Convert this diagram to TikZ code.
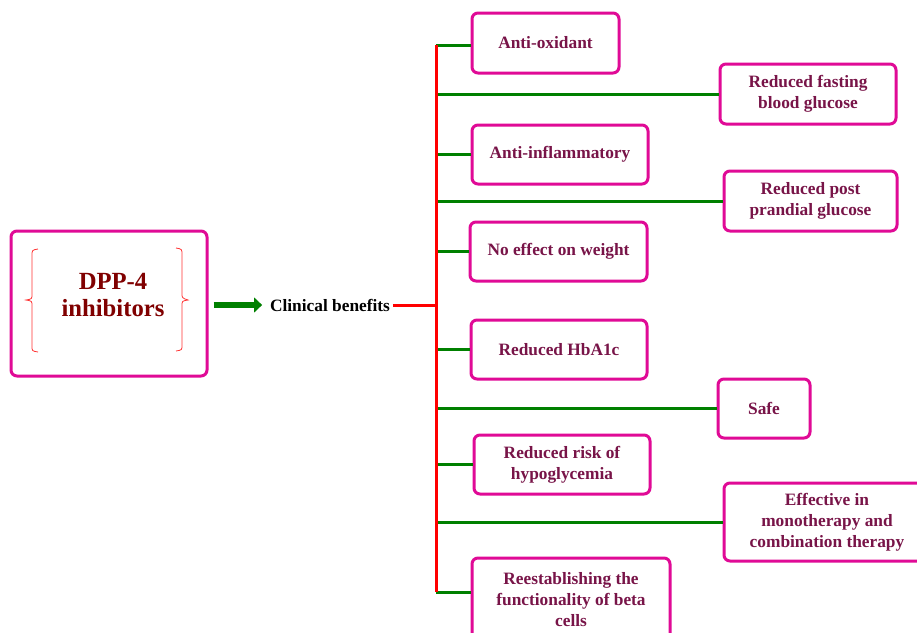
\documentclass[tikz,border=0pt]{standalone}
\usepackage{fontspec}
\setmainfont{Liberation Serif}
\usetikzlibrary{arrows.meta}
\definecolor{boxpink}{RGB}{224,10,150}
\definecolor{txtpurple}{RGB}{120,20,72}
\definecolor{dppred}{RGB}{128,0,0}
\definecolor{brgreen}{RGB}{0,128,0}
\definecolor{trunkred}{RGB}{255,0,0}
\tikzset{
  box/.style={draw=boxpink, line width=2.25pt, rounded corners=4.5pt, text=txtpurple,
    font=\fontsize{13}{15.75}\selectfont\bfseries, align=center, inner sep=0pt},
  branch/.style={draw=brgreen, line width=2.25pt},
  trunk/.style={draw=trunkred, line width=2.25pt},
  bracepath/.style={draw=trunkred!80, line width=0.6pt},
}
\begin{document}
\begin{tikzpicture}[x=0.75pt,y=-0.75pt]
\clip (0,0) rectangle (917,632);
\fill[white] (0,0) rectangle (917,632);
% left box
\node[box, minimum width=147pt, minimum height=108.75pt] (dpp) at (109,303.5) {};
\node[text=dppred, font=\fontsize{18.5}{20.25}\selectfont\bfseries, align=center, inner sep=0pt] (dpptxt) at (113,295) {DPP-4\\inhibitors};
\draw[bracepath] (38,249) .. controls (32,250) .. (32,256) -- (32,294) .. controls (32,299) .. (26,300) .. controls (32,301) .. (32,306) -- (32,346) .. controls (32,351) .. (38,352);
\draw[bracepath] (176,248) .. controls (182,249) .. (182,255) -- (182,293) .. controls (182,298) .. (188,300) .. controls (182,301) .. (182,306) -- (182,345) .. controls (182,350) .. (176,351);
% clinical benefits
\node[font=\fontsize{13}{15.75}\selectfont\bfseries, text=black, inner sep=2pt] (cb) at (330,305) {Clinical benefits};
\draw[draw=brgreen, line width=4.5pt, -{Triangle[length=6pt,width=11pt]}, shorten <=3.75pt, shorten >=3.75pt] (dpp.east |- cb.west) -- (cb.west);
% trunk
\coordinate (tt) at (436,45);
\coordinate (tm) at (436,305);
\coordinate (tb) at (436,592);
% boxes
\node[box, minimum width=110.25pt, minimum height=45pt] (b1) at (545.5,43) {Anti-oxidant};
\node[box, minimum width=132pt, minimum height=45pt] (b2) at (808,94) {Reduced fasting\\blood glucose};
\node[box, minimum width=132pt, minimum height=44.25pt] (b3) at (560,154.5) {Anti-inflammatory};
\node[box, minimum width=129.75pt, minimum height=45pt] (b4) at (810.5,201) {Reduced post\\prandial glucose};
\node[box, minimum width=132.75pt, minimum height=44.25pt] (b5) at (558.5,251.5) {No effect on weight};
\node[box, minimum width=132pt, minimum height=44.25pt] (b6) at (559,349.5) {Reduced HbA1c};
\node[box, minimum width=69pt, minimum height=44.25pt] (b7) at (764,408.5) {Safe};
\node[box, minimum width=132pt, minimum height=44.25pt] (b8) at (562,464.5) {Reduced risk of\\hypoglycemia};
\node[box, minimum width=154.5pt, minimum height=58.5pt] (b9) at (827,522) {Effective in\\monotherapy and\\combination therapy};
\node[box, minimum width=148.5pt, minimum height=63pt] (b10) at (571,600) {Reestablishing the\\functionality of beta\\cells};
% connectors
\draw[trunk] (cb.east) -- (tm);
\draw[branch] (tt) -- (tt -| b1.west);
\draw[branch] (b2.west -| tm) -- (b2.west);
\draw[branch] (b3.west -| tm) -- (b3.west);
\draw[branch] (b4.west -| tm) -- (b4.west);
\draw[branch] (b5.west -| tm) -- (b5.west);
\draw[branch] (b6.west -| tm) -- (b6.west);
\draw[branch] (b7.west -| tm) -- (b7.west);
\draw[branch] (b8.west -| tm) -- (b8.west);
\draw[branch] (b9.west -| tm) -- (b9.west);
\draw[branch] (tb) -- (tb -| b10.west);
\draw[trunk] (tt) -- (tb);
\end{tikzpicture}
\end{document}
